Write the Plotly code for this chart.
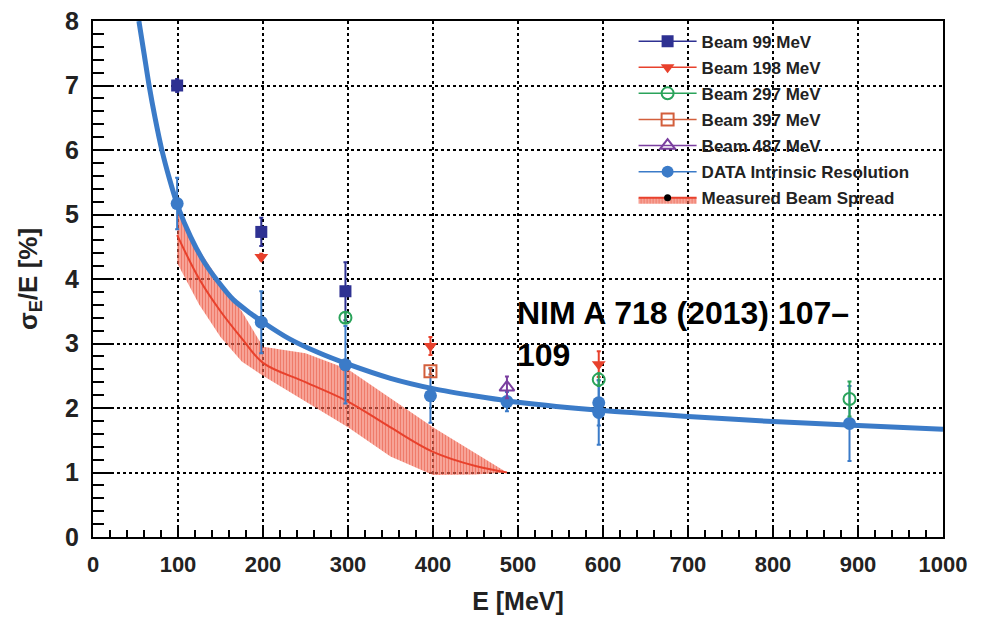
import plotly.graph_objects as go

# ---- data -------------------------------------------------------------
# Beam energy points [MeV] and relative resolution sigma_E/E [%]
beam99_e = [99, 198, 297]
beam99_y = [7.0, 4.73, 3.81]
beam99_err = [0.10, 0.22, 0.45]

beam198_e = [198, 397, 595]
beam198_y = [4.34, 2.96, 2.68]
beam198_err = [0.05, 0.14, 0.20]

beam297_e = [297, 595, 890]
beam297_y = [3.40, 2.44, 2.14]
beam297_err = [0.08, 0.10, 0.27]

beam397_e = [397]
beam397_y = [2.57]
beam397_err = [0.05]

beam487_e = [487]
beam487_y = [2.32]
beam487_err = [0.17]

data_e = [99, 198, 297, 397, 487, 595, 595, 890]
data_y = [5.17, 3.33, 2.67, 2.19, 2.10, 2.08, 1.93, 1.76]
data_err = [0.40, 0.48, 0.60, 0.42, 0.15, 0.35, 0.50, 0.58]

# fitted intrinsic resolution curve
fit_e = [54, 60, 66, 73, 81, 90, 100, 115, 130, 146, 165, 185, 200, 230,
         265, 300, 350, 400, 450, 500, 600, 700, 800, 900, 1000]
fit_y = [8.0, 7.5, 7.0, 6.5, 6.0, 5.55, 5.12, 4.65, 4.28, 3.98, 3.68, 3.47,
         3.33, 3.08, 2.86, 2.68, 2.46, 2.30, 2.185, 2.09, 1.96, 1.87, 1.79,
         1.73, 1.67]

# measured beam spread: central value and band
spread_e = [99, 125, 150, 175, 200, 250, 300, 350, 400, 450, 487]
spread_mid = [4.68, 4.0, 3.5, 3.08, 2.70, 2.40, 2.10, 1.70, 1.32, 1.10, 1.0]
spread_hi = [5.10, 4.45, 3.95, 3.50, 2.95, 2.85, 2.60, 2.15, 1.70, 1.30, 1.0]
spread_lo = [4.25, 3.60, 3.10, 2.72, 2.50, 2.10, 1.70, 1.25, 0.96, 0.97, 1.0]

x_ticks = [0, 100, 200, 300, 400, 500, 600, 700, 800, 900, 1000]
y_ticks = [0, 1, 2, 3, 4, 5, 6, 7, 8]

# ---- styles -----------------------------------------------------------
NAVY = "#2E3192"
RED = "#E8412C"
GREEN = "#2AA35A"
ORANGE = "#D35F3C"
PURPLE = "#7B3FA0"
BLUE = "#3B7BC8"
FONT = "Liberation Sans"

fig = go.Figure()

# beam spread band
band_x = spread_e + spread_e[::-1]
band_y = spread_hi + spread_lo[::-1]
pattern = dict(shape="|", fgcolor=RED, bgcolor="rgba(242,120,100,0.55)",
               size=3, solidity=0.55)
fig.add_trace(go.Scatter(x=band_x, y=band_y, fill="toself", mode="lines",
                         line=dict(width=0, color=RED), fillpattern=pattern,
                         fillcolor="rgba(0,0,0,0)",
                         showlegend=False, hoverinfo="skip"))
fig.add_trace(go.Scatter(x=spread_e, y=spread_mid, mode="lines",
                         line=dict(color=RED, width=2, shape="spline"),
                         showlegend=False))

# fitted curve
fig.add_trace(go.Scatter(x=fit_e, y=fit_y, mode="lines",
                         line=dict(color=BLUE, width=5, shape="spline",
                                   smoothing=0.8),
                         showlegend=False))


def err(vals, color):
    return dict(type="data", array=vals, visible=True, color=color,
                thickness=2, width=2)


series = [
    ("Beam 99 MeV", beam99_e, beam99_y, beam99_err, NAVY,
     dict(symbol="square", size=12, color=NAVY)),
    ("Beam 198 MeV", beam198_e, beam198_y, beam198_err, RED,
     dict(symbol="triangle-down", size=12, color=RED)),
    ("Beam 297 MeV", beam297_e, beam297_y, beam297_err, GREEN,
     dict(symbol="circle-open", size=12, color=GREEN, line=dict(width=2))),
    ("Beam 397 MeV", beam397_e, beam397_y, beam397_err, ORANGE,
     dict(symbol="square-open", size=12, color=ORANGE, line=dict(width=2))),
    ("Beam 487 MeV", beam487_e, beam487_y, beam487_err, PURPLE,
     dict(symbol="triangle-up-open", size=13, color=PURPLE,
          line=dict(width=2))),
]

# blue data first so beam markers sit on top of its error bars
fig.add_trace(go.Scatter(x=data_e, y=data_y, mode="markers",
                         marker=dict(symbol="circle", size=13, color=BLUE),
                         error_y=err(data_err, BLUE), showlegend=False))
for name, xs, ys, es, col, mk in series:
    fig.add_trace(go.Scatter(x=xs, y=ys, mode="markers", marker=mk,
                             error_y=err(es, col), showlegend=False))

# legend entries
for i, (name, xs, ys, es, col, mk) in enumerate(series):
    fig.add_trace(go.Scatter(x=[None], y=[None], mode="lines+markers",
                             name=name, marker=mk,
                             line=dict(color=col, width=1.5),
                             legendgroup=f"g{i}"))
fig.add_trace(go.Scatter(x=[None], y=[None], mode="lines+markers",
                         name="DATA Intrinsic Resolution",
                         marker=dict(symbol="circle", size=12, color=BLUE),
                         line=dict(color=BLUE, width=1.5), legendgroup="g5"))
fig.add_trace(go.Scatter(x=[None], y=[None], mode="lines+markers",
                         name="Measured Beam Spread", fill="toself",
                         fillpattern=pattern, fillcolor="rgba(0,0,0,0)",
                         marker=dict(symbol="circle", size=7, color="black"),
                         line=dict(color=RED, width=2), legendgroup="g6"))

fig.add_annotation(x=497, y=3.78, xref="x", yref="y", xanchor="left",
                   yanchor="top", align="left", showarrow=False,
                   text="NIM A 718 (2013) 107–<br>109",
                   font=dict(family=FONT, size=32, color="black",
                             weight="bold"))

axis_common = dict(showline=True, linecolor="black", linewidth=2,
                   mirror=True, ticks="inside", tickcolor="black",
                   tickwidth=1.5, showgrid=True, gridcolor="black",
                   gridwidth=2, griddash="dot", zeroline=False,
                   automargin=False)

fig.update_xaxes(range=[0, 1000], tickvals=x_ticks, ticklen=12,
                 ticklabelstandoff=7,
                 tickfont=dict(family=FONT, size=22, color="#222",
                               weight="bold"),
                 minor=dict(dtick=20, ticklen=7, ticks="inside",
                            tickcolor="black", showgrid=False),
                 title=dict(text="E [MeV]", standoff=16,
                            font=dict(family=FONT, size=25, color="#222",
                                      weight="bold")),
                 **axis_common)
fig.update_yaxes(range=[0, 8], tickvals=y_ticks, ticklen=20,
                 ticklabelstandoff=7,
                 tickfont=dict(family=FONT, size=25, color="#222",
                               weight="bold"),
                 minor=dict(dtick=0.2, ticklen=11, ticks="inside",
                            tickcolor="black", showgrid=False),
                 title=dict(text="σ<sub>E</sub>/E [%]", standoff=20,
                            font=dict(family=FONT, size=26, color="#222",
                                      weight="bold")),
                 **axis_common)

fig.update_layout(
    width=990, height=619,
    margin=dict(l=93, r=47, t=21, b=82),
    plot_bgcolor="white", paper_bgcolor="white",
    legend=dict(x=0.636, y=0.995, xanchor="left", yanchor="top",
                bgcolor="rgba(0,0,0,0)", traceorder="grouped",
                tracegroupgap=1, itemwidth=58,
                font=dict(family=FONT, size=17, color="#222",
                          weight="bold")),
    showlegend=True,
)

fig.write_html("out.html")
